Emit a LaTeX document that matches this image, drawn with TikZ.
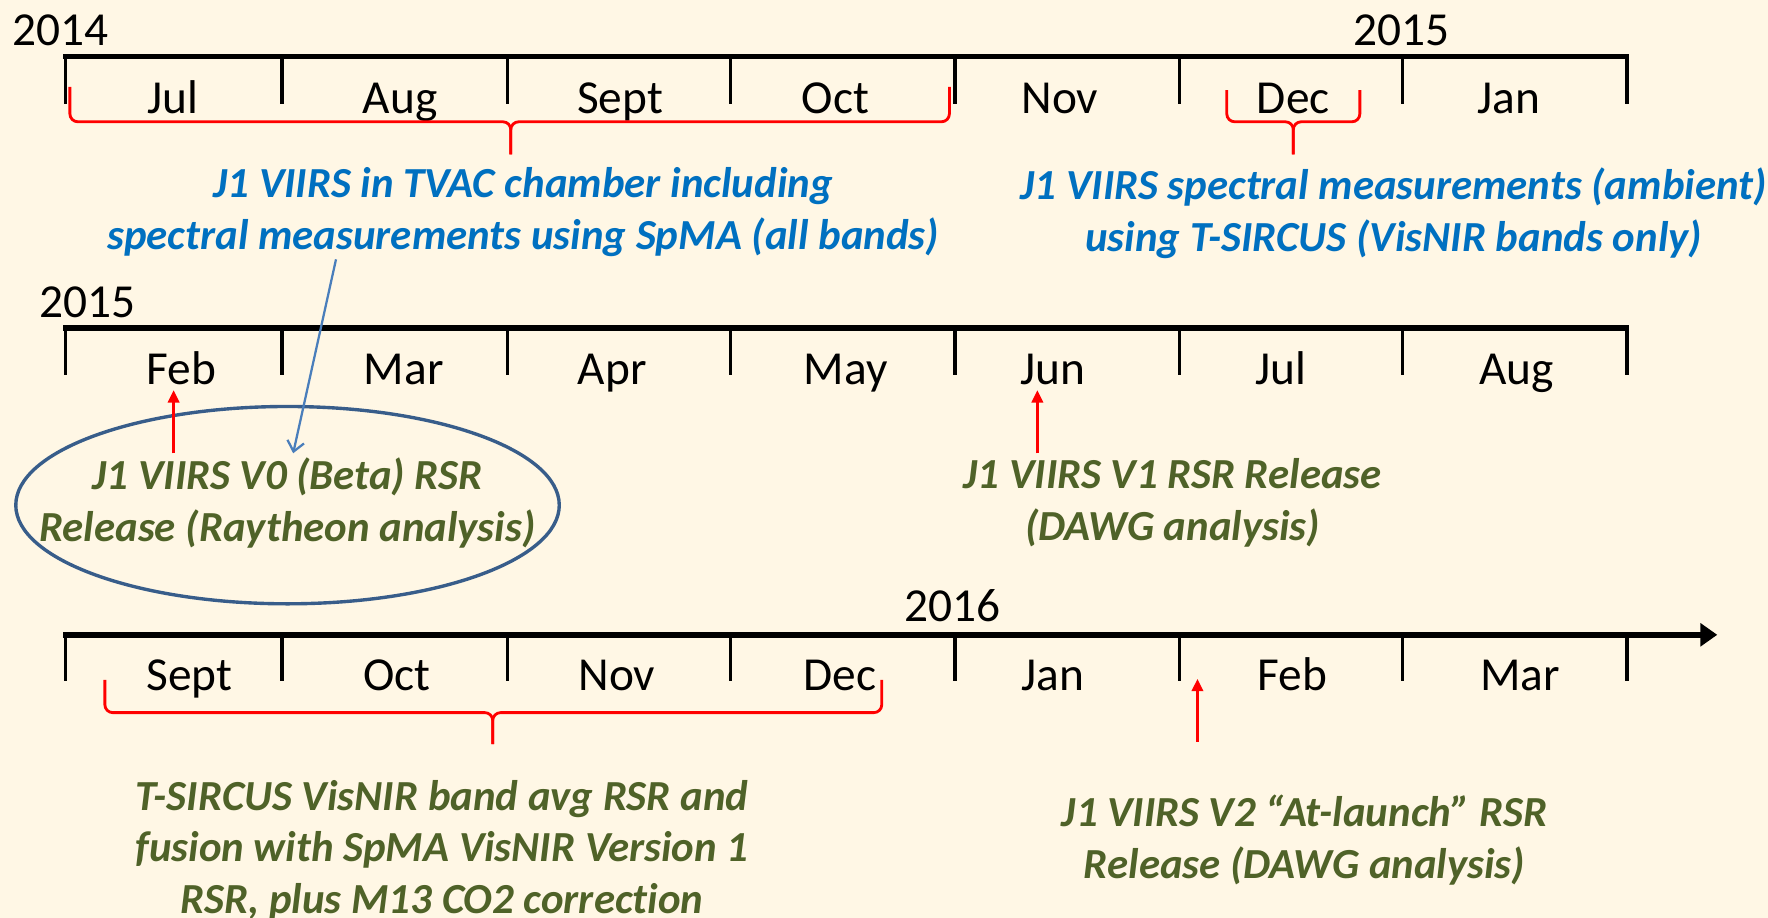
\documentclass[tikz,border=0pt]{standalone}
\usepackage{fontspec}
\setmainfont{Carlito}[Ligatures=NoCommon]
\usetikzlibrary{arrows.meta}
\definecolor{bg}{HTML}{FFF7E5}
\definecolor{tblue}{HTML}{0070C0}
\definecolor{tgreen}{HTML}{4F6228}
\definecolor{ellc}{HTML}{385D8A}
\definecolor{arrc}{HTML}{4A7EBB}
\begin{document}
\begin{tikzpicture}[x=1pt,y=-1pt,
  axisline/.style={line width=5pt,black},
  tickmark/.style={line width=3pt,black},
  month/.style={font=\fontsize{42}{50}\selectfont,anchor=base,inner sep=0pt},
  desc/.style={font=\fontsize{38}{45.5}\selectfont\bfseries\itshape,align=center,inner sep=0pt},
  brace/.style={red,line width=2.5pt,rounded corners=7pt},
  redarrow/.style={red,line width=2.5pt,-{Triangle[length=11pt,width=10pt]}},
  bluearrow/.style={arrc,line width=2pt,-{Straight Barb[length=9pt,width=15pt,line width=2pt]}}]
\fill[bg] (0,0) rectangle (1568,814);
\useasboundingbox (0,0) rectangle (1568,814);

% ---------- Timeline 1 ----------
\coordinate (l1s) at (56,50);
\coordinate (l1e) at (1445,50);
\draw[axisline] (l1s) -- (l1e);
\foreach \x in {58,250,450,648,847,1046,1244,1443}
  \draw[tickmark] (\x,50) -- (\x,92);
\node[month] (y2014) at (54,40) {2014};
\node[month] (y2015a) at (1243,40) {2015};
\foreach \m/\x in {Jul/153,Aug/355,Sept/550,Oct/741,Nov/940,Dec/1147,Jan/1338}
  \node[month] (a\m) at (\x,101) {\m};

\draw[brace] (62,77) -- (62,108) -- (453,108) -- (453,137);
\draw[brace] (842,77) -- (842,108) -- (453,108) -- (453,137);
\draw[brace] (1088,80) -- (1088,108) -- (1147,108) -- (1147,137);
\draw[brace] (1206,80) -- (1206,108) -- (1147,108) -- (1147,137);

\node[desc,text=tblue] (tvac) at (464,188)
  {J1 VIIRS in TVAC chamber including\\spectral measurements using SpMA (all bands)};
\node[desc,text=tblue] (ambient) at (1236,189)
  {J1 VIIRS spectral measurements (ambient)\\using T-SIRCUS (VisNIR bands only)};

% ---------- Timeline 2 ----------
\coordinate (l2s) at (56,291);
\coordinate (l2e) at (1445,291);
\draw[axisline] (l2s) -- (l2e);
\foreach \x in {58,250,450,648,847,1046,1244,1443}
  \draw[tickmark] (\x,291) -- (\x,333);
\node[month] (y2015b) at (78,282) {2015};
\foreach \m/\x in {Feb/161,Mar/358,Apr/543,May/750,Jun/934,Jul/1136,Aug/1345}
  \node[month] (b\m) at (\x,341) {\m};

\draw[ellc,line width=3pt] (255,448) ellipse [x radius=241, y radius=87.5];
\node[desc,text=tgreen] (v0) at (255,446)
  {J1 VIIRS V0 (Beta) RSR\\Release (Raytheon analysis)};
\node[desc,text=tgreen] (v1) at (1040,446)
  {J1 VIIRS V1 RSR Release\\(DAWG analysis)};

\coordinate (a1s) at (154,402);
\coordinate (a1e) at (154,346);
\draw[redarrow] (a1s) -- (a1e);
\coordinate (a2s) at (920,402);
\coordinate (a2e) at (920,346);
\draw[redarrow] (a2s) -- (a2e);

\coordinate (bas) at (298,230);
\coordinate (bae) at (260,402);
\draw[bluearrow] (bas) -- (bae);

% ---------- Timeline 3 ----------
\coordinate (l3s) at (56,563);
\coordinate (l3e) at (1523,563);
\draw[axisline,-{Triangle[length=15pt,width=20pt]}] (l3s) -- (l3e);
\foreach \x in {58,250,450,648,847,1046,1244,1443}
  \draw[tickmark] (\x,563) -- (\x,604);
\node[month] (y2016) at (845,551) {2016};
\foreach \m/\x in {Sept/168,Oct/352,Nov/547,Dec/745,Jan/934,Feb/1146,Mar/1348}
  \node[month] (c\m) at (\x,612) {\m};

\draw[brace] (93,603) -- (93,632) -- (437,632) -- (437,660);
\draw[brace] (782,603) -- (782,632) -- (437,632) -- (437,660);

\coordinate (a3s) at (1062,658);
\coordinate (a3e) at (1062,602);
\draw[redarrow] (a3s) -- (a3e);

\node[desc,text=tgreen] (fusion) at (392,754)
  {T-SIRCUS VisNIR band avg RSR and\\fusion with SpMA VisNIR Version 1\\RSR, plus M13 CO2 correction};
\node[desc,text=tgreen] (v2) at (1157,745)
  {J1 VIIRS V2 “At-launch” RSR\\Release (DAWG analysis)};
\end{tikzpicture}
\end{document}
